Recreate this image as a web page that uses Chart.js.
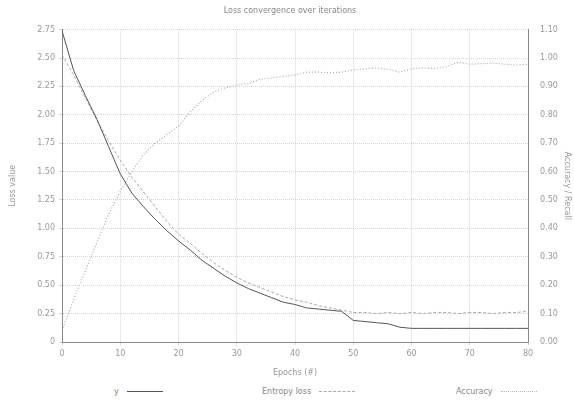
<!DOCTYPE html>
<html lang="en">
<head>
    <meta charset="UTF-8">
    <title>Loss convergence over iterations</title>
    <script src="https://cdn.jsdelivr.net/npm/chart.js"></script>
    <style>
        body { margin: 0; background: #fff; font-family: 'DejaVu Sans', sans-serif; }
        #wrap { position: relative; width: 574px; height: 402px; }
        #chart { position: absolute; left: 0; top: 0; }
        .leg { position: absolute; top: 387px; font-size: 8px; color: #888; display: flex; align-items: center; white-space: nowrap; }
        .leg .s { display: inline-block; width: 36px; margin-left: 8px; }
    </style>
</head>
<body>
<div id="wrap">
    <canvas id="chart" width="574" height="380"></canvas>
    <div class="leg" style="left:114px"><span>y</span><span class="s" style="border-top:1px solid #555"></span></div>
    <div class="leg" style="left:262px"><span>Entropy loss</span><span class="s" style="border-top:1px dashed #aaa"></span></div>
    <div class="leg" style="left:456px"><span>Accuracy</span><span class="s" style="border-top:1px dotted #bbb"></span></div>
</div>
<script>
    // epochs sampled every 2
    const epochs = [0, 2, 4, 6, 8, 10, 12, 14, 16, 18, 20, 22, 24, 26, 28, 30, 32, 34, 36, 38, 40,
        42, 44, 46, 48, 50, 52, 54, 56, 58, 60, 62, 64, 66, 68, 70, 72, 74, 76, 78, 80];
    const lossTrain = [2.74, 2.39, 2.17, 1.96, 1.72, 1.48, 1.31, 1.19, 1.08, 0.98, 0.89, 0.81, 0.72, 0.65, 0.58, 0.52,
        0.47, 0.43, 0.39, 0.35, 0.33, 0.30, 0.29, 0.28, 0.27, 0.19, 0.18, 0.17, 0.16, 0.13, 0.12, 0.12, 0.12, 0.12,
        0.12, 0.12, 0.12, 0.12, 0.12, 0.12, 0.12];
    const lossVal = [2.53, 2.35, 2.15, 1.95, 1.77, 1.60, 1.45, 1.32, 1.19, 1.06, 0.95, 0.87, 0.78, 0.70, 0.63, 0.57,
        0.52, 0.48, 0.44, 0.40, 0.37, 0.35, 0.32, 0.30, 0.28, 0.26, 0.26, 0.25, 0.26, 0.25, 0.26, 0.25, 0.26, 0.26,
        0.25, 0.26, 0.26, 0.25, 0.26, 0.26, 0.27];
    const accuracy = [0.04, 0.15, 0.25, 0.35, 0.45, 0.53, 0.60, 0.66, 0.70, 0.73, 0.76, 0.81, 0.85, 0.88, 0.895, 0.905,
        0.91, 0.925, 0.93, 0.935, 0.94, 0.95, 0.95, 0.948, 0.95, 0.958, 0.962, 0.965, 0.96, 0.95, 0.962, 0.965, 0.963,
        0.97, 0.985, 0.978, 0.98, 0.982, 0.978, 0.975, 0.978];
    const leftTicks = [0, 0.25, 0.5, 0.75, 1, 1.25, 1.5, 1.75, 2, 2.25, 2.5, 2.75];
    const rightTicks = [0, 0.1, 0.2, 0.3, 0.4, 0.5, 0.6, 0.7, 0.8, 0.9, 1.0, 1.1];

    const pts = (ys) => epochs.map((e, i) => ({ x: e, y: ys[i] }));
    const tickFont = { family: 'DejaVu Sans', size: 8 };
    const fmt = v => v === 0 ? '0' : v.toFixed(2);

    new Chart(document.getElementById('chart'), {
        type: 'line',
        data: {
            datasets: [
                { label: 'y', data: pts(lossTrain), yAxisID: 'y', borderColor: '#555', borderWidth: 1, pointRadius: 0, tension: 0 },
                { label: 'Entropy loss', data: pts(lossVal), yAxisID: 'y', borderColor: '#aaa', borderWidth: 1, borderDash: [3, 2], pointRadius: 0, tension: 0 },
                { label: 'Accuracy', data: pts(accuracy), yAxisID: 'y1', borderColor: '#aaa', borderWidth: 1.2, borderDash: [1, 2], pointRadius: 0, tension: 0 }
            ]
        },
        options: {
            responsive: false,
            animation: false,
            layout: { padding: { top: 0, bottom: 0, left: 6, right: 0 } },
            plugins: {
                legend: { display: false },
                tooltip: { enabled: false },
                title: { display: true, text: 'Loss convergence over iterations', color: '#888', font: { family: 'DejaVu Sans', size: 8, weight: 'normal' }, padding: { top: 6, bottom: 14 } }
            },
            scales: {
                x: {
                    type: 'linear', min: 0, max: 80,
                    ticks: { stepSize: 10, color: '#999', font: tickFont, padding: 4 },
                    grid: { color: '#d4d4d4', tickLength: 3 },
                    border: { color: '#888', dash: [1, 1] },
                    title: { display: true, text: 'Epochs (#)', color: '#999', font: tickFont, padding: 2 },
                    afterFit: s => { s.height = 38; }
                },
                y: {
                    position: 'left', min: 0, max: 2.75,
                    afterBuildTicks: s => { s.ticks = leftTicks.map(v => ({ value: v })); },
                    ticks: { callback: fmt, color: '#999', font: tickFont, padding: 4 },
                    grid: { color: '#d4d4d4', tickLength: 3 },
                    border: { color: '#888', dash: [1, 1] },
                    title: { display: true, text: 'Loss value', color: '#999', font: tickFont, padding: 2 },
                    afterFit: s => { s.width = 56; }
                },
                y1: {
                    position: 'right', min: 0, max: 1.1,
                    afterBuildTicks: s => { s.ticks = rightTicks.map(v => ({ value: v })); },
                    ticks: { callback: v => v.toFixed(2), color: '#999', font: tickFont, padding: 4 },
                    grid: { display: false },
                    border: { color: '#888', dash: [1, 1] },
                    title: { display: true, text: 'Accuracy / Recall', color: '#999', font: tickFont, padding: 2 },
                    afterFit: s => { s.width = 46; }
                }
            }
        }
    });
</script>
</body>
</html>
